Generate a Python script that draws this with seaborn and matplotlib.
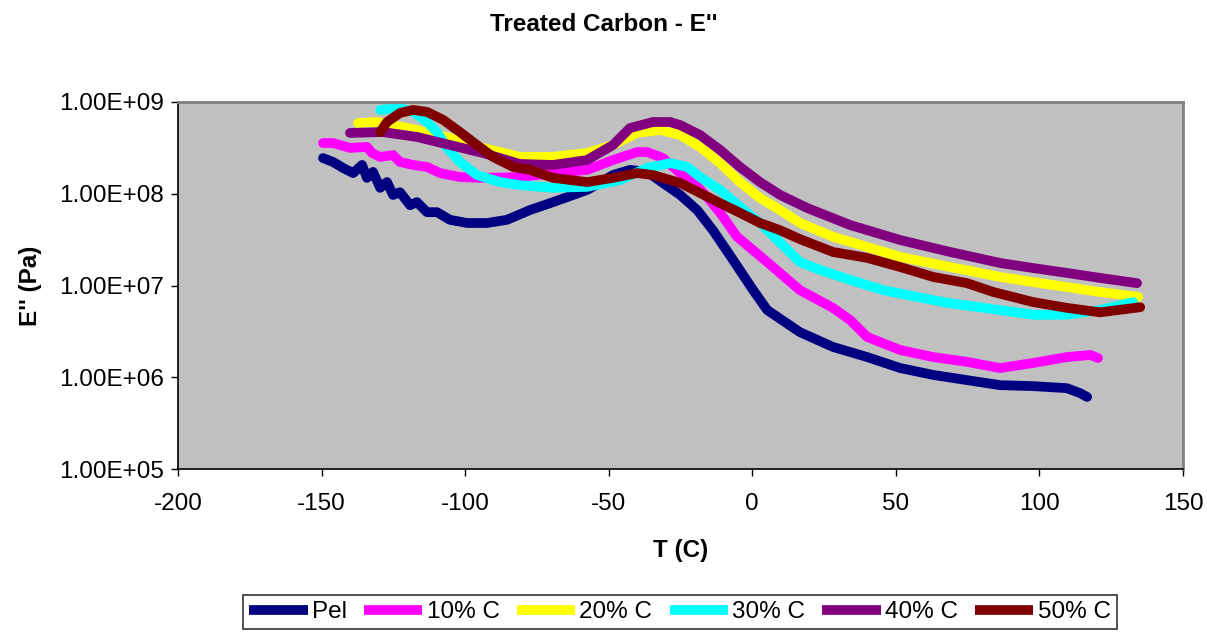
import numpy as np
import pandas as pd
import matplotlib
matplotlib.use("Agg")
import matplotlib.pyplot as plt
from matplotlib.ticker import FuncFormatter, FixedLocator, NullLocator
from matplotlib.lines import Line2D
import seaborn as sns

# ---- data ----
series_names = ["Pel", "10% C", "20% C", "30% C", "40% C", "50% C"]
series_colors = ["#000080", "#FF00FF", "#FFFF00", "#00FFFF", "#800080", "#800000"]

pel_T = [-149.5, -146.0, -142.5, -139.0, -135.9, -134.2, -132.1, -129.6, -127.2, -125.1,
         -122.7, -119.2, -116.8, -113.3, -109.8, -105.3, -99.3, -92.4, -85.4, -77.4,
         -69.4, -57.5, -48.5, -42.6, -36.6, -31.1, -25.1, -19.2, -13.7, -6.7,
         0.3, 5.2, 16.6, 28.1, 40.0, 51.5, 63.0, 74.8, 86.3, 97.8, 109.6, 114.2, 116.6]
pel_E = [2.45e8, 2.22e8, 1.91e8, 1.68e8, 2.06e8, 1.49e8, 1.73e8, 1.16e8, 1.34e8, 9.7e7,
         1.04e8, 7.5e7, 8.1e7, 6.3e7, 6.3e7, 5.2e7, 4.8e7, 4.8e7, 5.2e7, 6.65e7,
         8.1e7, 1.1e8, 1.6e8, 1.82e8, 1.73e8, 1.31e8, 9.7e7, 6.65e7, 4.0e7, 1.9e7,
         8.9e6, 5.4e6, 3.1e6, 2.14e6, 1.66e6, 1.26e6, 1.06e6, 9.3e5, 8.2e5, 8.0e5, 7.6e5, 6.7e5, 6.1e5]

c10_T = [-149.5, -146.0, -140.1, -134.2, -132.4, -129.6, -125.1, -122.7, -118.1, -113.3,
         -108.7, -101.8, -93.8, -80.9, -69.4, -57.5, -48.5, -40.1, -36.6, -31.1,
         -25.1, -20.6, -15.7, -11.2, -5.3, 5.2, 16.6, 28.1, 34.1, 40.0,
         51.5, 63.0, 74.8, 86.3, 97.8, 109.6, 117.7, 120.4]
c10_E = [3.57e8, 3.57e8, 3.16e8, 3.24e8, 2.78e8, 2.52e8, 2.64e8, 2.22e8, 2.06e8, 1.96e8,
         1.68e8, 1.52e8, 1.49e8, 1.52e8, 1.68e8, 1.82e8, 2.33e8, 2.85e8, 2.85e8, 2.45e8,
         1.68e8, 1.34e8, 9.2e7, 6.2e7, 3.4e7, 1.8e7, 8.9e6, 5.7e6, 4.2e6, 2.75e6,
         1.98e6, 1.66e6, 1.47e6, 1.26e6, 1.43e6, 1.66e6, 1.75e6, 1.62e6]

c20_T = [-137.3, -130.7, -125.1, -116.8, -105.3, -93.8, -80.9, -69.4, -57.5, -48.5,
         -40.1, -32.1, -25.1, -18.2, -11.2, -4.3, 2.7, 9.7, 16.6, 28.1,
         40.0, 51.5, 68.9, 86.3, 97.8, 109.6, 121.1, 134.4]
c20_E = [5.9e8, 6.05e8, 5.6e8, 4.95e8, 4.06e8, 3.16e8, 2.52e8, 2.52e8, 2.78e8, 3.4e8,
         4.6e8, 4.95e8, 4.37e8, 3.24e8, 2.16e8, 1.34e8, 9.0e7, 6.65e7, 4.8e7, 3.4e7,
         2.63e7, 2.05e7, 1.59e7, 1.24e7, 1.09e7, 9.6e6, 8.5e6, 7.5e6]

c30_T = [-129.6, -122.7, -118.1, -113.3, -109.8, -106.3, -101.8, -95.9, -87.8, -80.9,
         -69.4, -57.5, -46.0, -36.6, -28.6, -22.7, -18.2, -11.2, -4.3, 2.7,
         16.6, 23.6, 34.1, 45.6, 57.4, 68.9, 86.3, 97.8, 109.6, 121.1, 132.6]
c30_E = [8.2e8, 8.6e8, 7.8e8, 6.05e8, 4.7e8, 3.16e8, 2.22e8, 1.6e8, 1.34e8, 1.24e8,
         1.16e8, 1.19e8, 1.41e8, 1.91e8, 2.16e8, 1.96e8, 1.52e8, 1.1e8, 7.2e7, 4.8e7,
         1.8e7, 1.48e7, 1.15e7, 8.9e6, 7.5e6, 6.4e6, 5.4e6, 4.8e6, 4.8e6, 5.4e6, 6.6e6]

c40_T = [-140.1, -128.6, -116.8, -105.3, -93.8, -80.9, -69.4, -57.5, -48.5, -42.6,
         -34.6, -28.6, -25.1, -18.2, -11.2, -4.3, 2.7, 9.7, 19.1, 34.1,
         51.5, 68.9, 86.3, 97.8, 109.6, 121.1, 134.0]
c40_E = [4.6e8, 4.7e8, 4.16e8, 3.4e8, 2.78e8, 2.11e8, 2.06e8, 2.33e8, 3.4e8, 5.2e8,
         6.05e8, 6.05e8, 5.6e8, 4.37e8, 3.0e8, 1.96e8, 1.34e8, 9.7e7, 7.0e7, 4.56e7,
         3.13e7, 2.32e7, 1.76e7, 1.55e7, 1.37e7, 1.21e7, 1.06e7]

c50_T = [-129.6, -127.2, -122.7, -118.1, -113.3, -107.7, -101.8, -95.9, -90.3, -83.3,
         -77.4, -69.4, -57.5, -48.5, -40.1, -34.6, -25.1, -18.2, -11.2, -4.3,
         2.7, 9.7, 16.6, 28.1, 40.0, 51.5, 63.0, 74.8, 83.9, 97.8, 109.6, 121.1, 135.1]
c50_E = [4.7e8, 6.05e8, 7.6e8, 8.2e8, 7.8e8, 6.4e8, 4.7e8, 3.4e8, 2.52e8, 1.96e8,
         1.82e8, 1.49e8, 1.34e8, 1.49e8, 1.68e8, 1.6e8, 1.31e8, 1.02e8, 7.9e7, 6.2e7,
         4.8e7, 4.0e7, 3.2e7, 2.32e7, 2.0e7, 1.59e7, 1.24e7, 1.06e7, 8.5e6, 6.6e6, 5.7e6, 5.1e6, 5.8e6]

x_ticks = [-200, -150, -100, -50, 0, 50, 100, 150]
y_ticks = [1e5, 1e6, 1e7, 1e8, 1e9]

title_text = "Treated Carbon - E''"
x_label = "T (C)"
y_label = "E'' (Pa)"

# ---- build long-form table ----
all_T = [pel_T, c10_T, c20_T, c30_T, c40_T, c50_T]
all_E = [pel_E, c10_E, c20_E, c30_E, c40_E, c50_E]
frames = []
for name, t, e in zip(series_names, all_T, all_E):
    frames.append(pd.DataFrame({"T": t, "E": e, "series": name}))
df = pd.concat(frames, ignore_index=True)

sns.set_theme(style="white")
plt.rcParams["font.family"] = ["Liberation Sans", "DejaVu Sans"]
plt.rcParams["axes.unicode_minus"] = False
plt.rcParams["text.color"] = "black"
plt.rcParams["axes.labelcolor"] = "black"
plt.rcParams["xtick.color"] = "black"
plt.rcParams["ytick.color"] = "black"

fig = plt.figure(figsize=(12.07, 6.33), dpi=100)
ax = fig.add_axes([178 / 1207, 1 - 469 / 633, (1183 - 178) / 1207, (469 - 102) / 633])
ax.set_facecolor("#C0C0C0")

LW = 7
sns.lineplot(data=df, x="T", y="E", hue="series", hue_order=series_names,
             palette=dict(zip(series_names, series_colors)), sort=False,
             estimator=None, units="series", linewidth=LW, ax=ax, legend=False)
for ln in ax.get_lines():
    ln.set_solid_capstyle("round")
    ln.set_solid_joinstyle("round")

ax.set_yscale("log")
ax.set_xlim(-200, 150)
ax.set_ylim(1e5, 1e9)
ax.xaxis.set_major_locator(FixedLocator(x_ticks))
ax.yaxis.set_major_locator(FixedLocator(y_ticks))
ax.yaxis.set_minor_locator(NullLocator())
ax.yaxis.set_major_formatter(FuncFormatter(
    lambda v, p: "%.2fE+%02d" % (v / 10 ** int(round(np.log10(v))), int(round(np.log10(v))))))
ax.tick_params(axis="both", which="major", direction="out", length=5, width=1,
               color="black", labelsize=17.5, labelcolor="black")
ax.tick_params(axis="x", pad=12)
ax.tick_params(axis="y", pad=5)
ax.tick_params(left=True, bottom=True)

for side in ["top", "right"]:
    ax.spines[side].set_color("#808080")
    ax.spines[side].set_linewidth(2)
for side in ["left", "bottom"]:
    ax.spines[side].set_color("black")
    ax.spines[side].set_linewidth(1.2)

ax.set_xlabel(x_label, fontsize=17.5, fontweight="bold", color="black")
ax.set_ylabel(y_label, fontsize=17.5, fontweight="bold", color="black")
ax.xaxis.set_label_coords(0.5, -0.19)
ax.yaxis.set_label_coords(-0.135, 0.5)

fig.suptitle(title_text, x=0.5, y=1 - 13 / 633, fontsize=17.5, fontweight="bold",
             va="top", color="black")

handles = [Line2D([0], [0], color=c, lw=LW, solid_capstyle="butt") for c in series_colors]
leg = fig.legend(handles, series_names, loc="upper center",
                 bbox_to_anchor=(680 / 1207, 1 - 595 / 633), ncol=6,
                 fontsize=17.5, frameon=True, fancybox=False, handlelength=2.4,
                 handletextpad=0.18, columnspacing=0.7, borderpad=0.25,
                 borderaxespad=0)
leg.get_frame().set_edgecolor("black")
leg.get_frame().set_linewidth(1.2)
leg.get_frame().set_facecolor("white")
for t in leg.get_texts():
    t.set_color("black")

fig.savefig("out.png", dpi=100, facecolor="white")
